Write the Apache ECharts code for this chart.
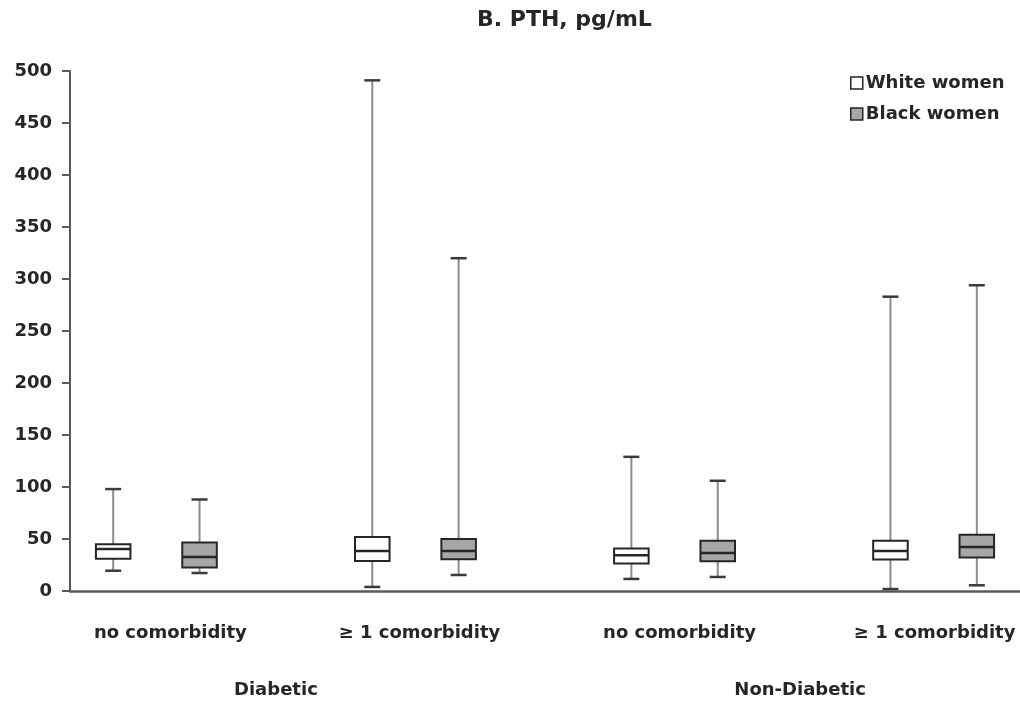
<!DOCTYPE html>
<html><head><meta charset="utf-8">
<script src="https://cdn.jsdelivr.net/npm/echarts@6/dist/echarts.min.js"></script>
<style>html,body{margin:0;padding:0;background:#fff}#c{width:1020px;height:702px}</style>
</head><body><div id="c"></div>
<script>
// category slots along the x axis (blank slots separate the pairs)
const slots = ['W1', 'B1', 'g1', 'W2', 'B2', 'g2', 'W3', 'B3', 'g3', 'W4', 'B4'];
const subgroupLabels = ['no comorbidity', '\u2265 1 comorbidity', 'no comorbidity', '\u2265 1 comorbidity'];
const groupLabels = ['Diabetic', 'Non-Diabetic'];
const whiteSlots = [0, 3, 6, 9];
const blackSlots = [1, 4, 7, 10];
// [min, Q1, median, Q3, max]
const whiteWomen = [
  [19.5, 31, 40.5, 45, 98],
  [3.9, 28.9, 38.5, 52, 491],
  [11.6, 26.4, 34.4, 40.8, 129],
  [1.9, 30.2, 38.5, 48.2, 283]
];
const blackWomen = [
  [17.3, 22.5, 32.8, 46.6, 88],
  [15.4, 30.5, 38.5, 50, 320],
  [13.5, 28.6, 36.6, 48.2, 106],
  [5.5, 32.2, 42.4, 54, 294]
];
const yMin = 0, yMax = 500, yStep = 50;

const FONT = 'DejaVu Sans';
const TXT = '#262626';

function renderBox(params, api) {
  const x = api.value(0);
  const mn = api.value(1), q1 = api.value(2), md = api.value(3), q3 = api.value(4), mx = api.value(5);
  const band = api.size([1, 0])[0];
  const bw = band * 0.4, cw = band * 0.185;
  const pMin = api.coord([x, mn]), pQ1 = api.coord([x, q1]), pMd = api.coord([x, md]);
  const pQ3 = api.coord([x, q3]), pMax = api.coord([x, mx]);
  const cx = pMin[0];
  const fill = api.visual('color');
  const wStyle = { stroke: '#8c8c8c', lineWidth: 2 };
  const cStyle = { stroke: '#3a3a3a', lineWidth: 2.5 };
  return {
    type: 'group',
    children: [
      { type: 'line', shape: { x1: cx, y1: pMax[1], x2: cx, y2: pQ3[1] }, style: wStyle },
      { type: 'line', shape: { x1: cx, y1: pQ1[1], x2: cx, y2: pMin[1] }, style: wStyle },
      { type: 'line', shape: { x1: cx - cw / 2, y1: pMax[1], x2: cx + cw / 2, y2: pMax[1] }, style: cStyle },
      { type: 'line', shape: { x1: cx - cw / 2, y1: pMin[1], x2: cx + cw / 2, y2: pMin[1] }, style: cStyle },
      { type: 'rect', shape: { x: cx - bw / 2, y: pQ3[1], width: bw, height: pQ1[1] - pQ3[1] },
        style: { fill: fill, stroke: '#262626', lineWidth: 2 } },
      { type: 'line', shape: { x1: cx - bw / 2, y1: pMd[1], x2: cx + bw / 2, y2: pMd[1] },
        style: { stroke: '#262626', lineWidth: 2.5 } }
    ]
  };
}

const chart = echarts.init(document.getElementById('c'));
chart.setOption({
  animation: false,
  backgroundColor: '#fff',
  title: {
    text: 'B. PTH, pg/mL', left: 472, top: 4,
    textStyle: { fontFamily: FONT, fontSize: 22, fontWeight: 'bold', color: TXT }
  },
  legend: {
    orient: 'vertical', left: 845, top: 69, itemGap: 13,
    itemWidth: 12, itemHeight: 12, icon: 'rect',
    textStyle: { fontFamily: FONT, fontSize: 18, fontWeight: 'bold', color: TXT, padding: [0, 0, 0, -2] },
    data: [
      { name: 'White women', itemStyle: { color: '#ffffff', borderColor: '#262626', borderWidth: 1.5 } },
      { name: 'Black women', itemStyle: { color: '#a6a6a6', borderColor: '#262626', borderWidth: 1.5 } }
    ]
  },
  grid: { left: 70, right: 0, top: 71, bottom: 111 },
  xAxis: {
    type: 'category', data: slots,
    axisLine: { lineStyle: { color: '#595959', width: 2.5 } },
    axisTick: { show: false }, axisLabel: { show: false }, splitLine: { show: false }
  },
  yAxis: {
    type: 'value', min: yMin, max: yMax, interval: yStep,
    axisLine: { show: true, lineStyle: { color: '#595959', width: 2 } },
    axisTick: { show: true, length: 8, lineStyle: { color: '#595959', width: 2 } },
    splitLine: { show: false },
    axisLabel: { margin: 18, fontFamily: FONT, fontSize: 18, fontWeight: 'bold', color: TXT }
  },
  series: [
    {
      name: 'White women', type: 'custom', renderItem: renderBox,
      itemStyle: { color: '#ffffff' },
      encode: { x: 0, y: [1, 2, 3, 4, 5] },
      data: whiteSlots.map((s, i) => [s].concat(whiteWomen[i]))
    },
    {
      name: 'Black women', type: 'custom', renderItem: renderBox,
      itemStyle: { color: '#a6a6a6' },
      encode: { x: 0, y: [1, 2, 3, 4, 5] },
      data: blackSlots.map((s, i) => [s].concat(blackWomen[i]))
    }
  ]
});

const px = i => chart.convertToPixel({ xAxisIndex: 0 }, i);
const subShift = [14, 4, 5, 1];
const subCenters = whiteSlots.map((w, i) => (px(w) + px(blackSlots[i])) / 2);
const groupCenters = [(subCenters[0] + subCenters[1]) / 2 - 10, (subCenters[2] + subCenters[3]) / 2 - 4];
const txtStyle = { fontFamily: FONT, fontSize: 18, fontWeight: 'bold', fill: TXT, align: 'center', verticalAlign: 'middle' };
const graphics = [];
subgroupLabels.forEach((t, i) => graphics.push({ type: 'text', x: subCenters[i] + subShift[i], y: 633, style: Object.assign({ text: t }, txtStyle) }));
groupLabels.forEach((t, i) => graphics.push({ type: 'text', x: groupCenters[i], y: 690, style: Object.assign({ text: t }, txtStyle) }));
chart.setOption({ graphic: graphics });
</script>
</body></html>
